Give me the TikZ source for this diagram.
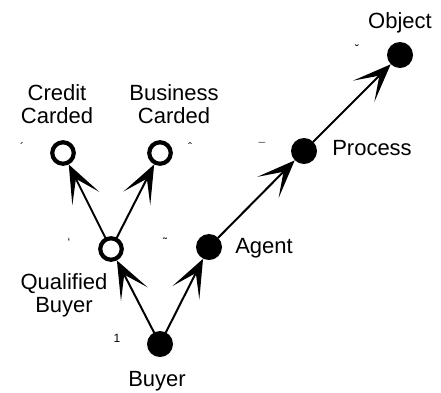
\documentclass[tikz,border=0pt]{standalone}
\usepackage{fontspec}
\setmainfont{Liberation Sans}
\usepackage{tikz}
\usetikzlibrary{arrows.meta}

\tikzset{
    fulldot/.style={circle,fill=black,minimum size=26pt,inner sep=0pt},
    opendot/.style={circle,draw=black,line width=4.2pt,minimum size=21.5pt,inner sep=0pt},
    lbl/.style={inner sep=0pt,font=\fontsize{22}{23}\selectfont,align=center,anchor=base},
    tick/.style={inner sep=0pt,font=\fontsize{12}{12}\selectfont,anchor=base},
    link/.style={line width=2pt,arrows={-Stealth[length=38pt,width=30pt,inset=22pt]}}
}

\begin{document}
\begin{tikzpicture}[line cap=round,line join=round,x=1pt,y=-1pt]
                \useasboundingbox (0,0) rectangle (441,392);
                % points
                \node [fulldot] (buyer) at (160,344) {};
                \node [opendot] (qualified) at (111,249) {};
                \node [fulldot] (agent) at (209,247) {};
                \node [fulldot] (process) at (304,151) {};
                \node [fulldot] (object) at (400,55) {};
                \node [opendot] (credit) at (63,153) {};
                \node [opendot] (business) at (160,153) {};
                % arrows
                \draw [link] (buyer) -- (qualified);
                \draw [link] (buyer) -- (agent);
                \draw [link] (agent) -- (process);
                \draw [link] (process) -- (object);
                \draw [link] (qualified) -- (credit);
                \draw [link] (qualified) -- (business);
                % labels
                \node [lbl] (buyerlbl) at (157,386) {Buyer};
                \node [lbl] (qualifiedlbl) at (64,312) {Qualified\\Buyer};
                \node [lbl] (agentlbl) at (264,253) {Agent};
                \node [lbl] (processlbl) at (372,155) {Process};
                \node [lbl] (objectlbl) at (400,28) {Object};
                \node [lbl] (creditlbl) at (57,123) {Credit\\Carded};
                \node [lbl] (businesslbl) at (174,123) {Business\\Carded};
                % small marks
                \node [tick] (m1) at (22,151) {´};
                \node [tick] (m2) at (190,151) {ˆ};
                \node [tick] (m3) at (262,151) {¯};
                \node [tick] (m4) at (357,53) {˘};
                \node [tick] (m5) at (69,246) {`};
                \node [tick] (m6) at (165,246) {˜};
                \node [tick] (m7) at (117,342) {1};
\end{tikzpicture}
\end{document}
